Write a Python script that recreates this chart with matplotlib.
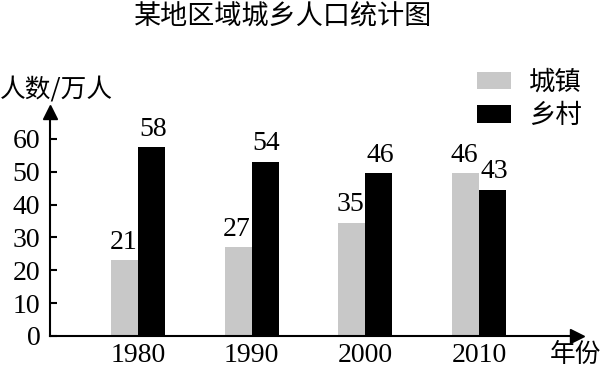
import matplotlib
matplotlib.use("Agg")
import matplotlib.pyplot as plt
import numpy as np

plt.rcParams['font.family'] = ['Liberation Serif', 'Noto Sans CJK SC']

years = ["1980", "1990", "2000", "2010"]
# bar lengths as drawn in the picture (the drawing is not to scale with the printed numbers)
urban_height = [23, 27, 34.5, 49.5]
rural_height = [57.5, 53, 49.5, 44.5]
# numbers printed above the bars
urban_label = [21, 27, 35, 46]
rural_label = [58, 54, 46, 43]
y_ticks = [0, 10, 20, 30, 40, 50, 60]

GREY = "#c8c8c8"
CJK = ['Noto Sans CJK SC']
NUM_SIZE = 20


def main():
    fig = plt.figure(figsize=(6.01, 3.72), dpi=100)
    ax = fig.add_axes([0.0832, 0.0968, 0.8768, 0.6022])

    x = np.arange(len(years))
    w = 0.237
    b1 = ax.bar(x - w / 2, urban_height, w, color=GREY, label="城镇")
    b2 = ax.bar(x + w / 2, rural_height, w, color="black", label="乡村")

    for rect, lab in zip(b1, urban_label):
        ax.annotate(str(lab), (rect.get_x() + rect.get_width() / 2, rect.get_height()),
                    xytext=(-1, 4), textcoords="offset points", ha="center", va="bottom", fontsize=NUM_SIZE)
    for rect, lab in zip(b2, rural_label):
        ax.annotate(str(lab), (rect.get_x() + rect.get_width() / 2, rect.get_height()),
                    xytext=(1, 4), textcoords="offset points", ha="center", va="bottom", fontsize=NUM_SIZE)

    ax.set_xlim(-0.774, 3.86)
    ax.set_ylim(0, 68.2)
    ax.set_xticks(x)
    ax.set_xticklabels(years, fontsize=NUM_SIZE)
    ax.set_yticks(y_ticks)
    ax.set_yticklabels([str(t) for t in y_ticks], fontsize=NUM_SIZE)
    ax.tick_params(axis="y", direction="in", length=5, width=1.5, pad=7)
    ax.tick_params(axis="x", length=0, pad=5)

    for s in ["top", "right"]:
        ax.spines[s].set_visible(False)
    for s in ["left", "bottom"]:
        ax.spines[s].set_linewidth(1.5)

    # arrow heads on the axes
    ax.plot(1, 0, ">", color="black", markersize=10, transform=ax.transAxes, clip_on=False)
    ax.plot(0, 1, "^", color="black", markersize=10, transform=ax.transAxes, clip_on=False)

    ax.legend(loc="upper left", bbox_to_anchor=(0.793, 0.815), bbox_transform=fig.transFigure,
              frameon=False, prop={'family': CJK, 'size': 19}, handlelength=1.3, handleheight=0.65,
              handletextpad=0.7, labelspacing=0.25, borderpad=0, borderaxespad=0)

    fig.text(0.471, 0.955, "某地区域城乡人口统计图", ha="center", va="center", fontsize=19.5, family=CJK)
    fig.text(0.0, 0.758, "人数/万人", ha="left", va="center", fontsize=18.5, family=['Noto Sans CJK SC', 'Liberation Serif'])
    fig.text(1.0, 0.045, "年份", ha="right", va="center", fontsize=18.5, family=CJK)

    fig.savefig("out.png", dpi=100)


if __name__ == "__main__":
    main()
